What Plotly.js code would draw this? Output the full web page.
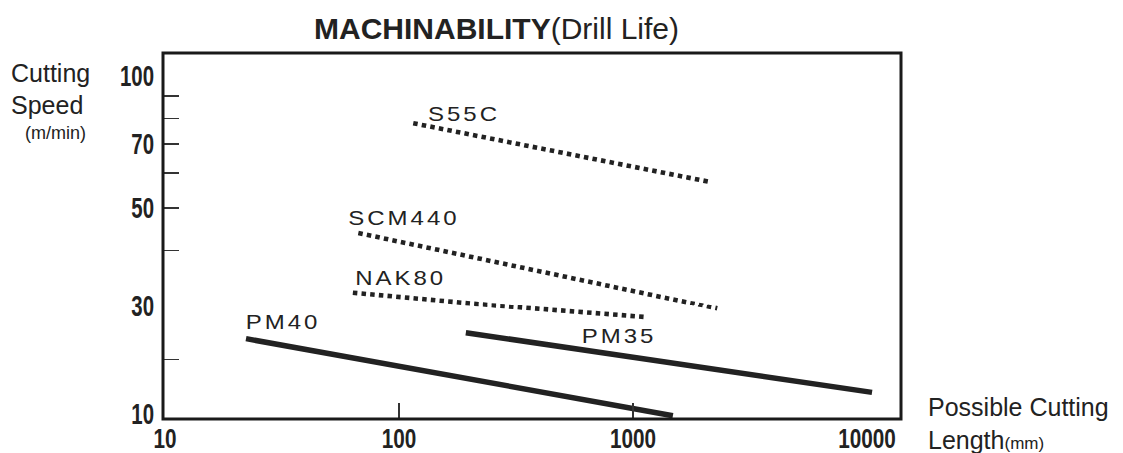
<!DOCTYPE html>
<html>
<head>
<meta charset="utf-8">
<script src="https://cdn.plot.ly/plotly-3.0.1.min.js"></script>
<style>
html,body{margin:0;padding:0;background:#fff;}
#chart{width:1123px;height:453px;}
.annotation[data-index="0"] text,
.annotation[data-index="1"] text,
.annotation[data-index="2"] text,
.annotation[data-index="3"] text,
.annotation[data-index="4"] text { letter-spacing: 2.5px; }
</style>
</head>
<body>
<div id="chart"></div>
<script>
// ---- data ----
const seriesNames = ['S55C', 'SCM440', 'NAK80', 'PM40', 'PM35'];
const s55cLength   = [115, 2130];
const s55cSpeed    = [78, 57.3];
const scm440Length = [67, 2290];
const scm440Speed  = [43.8, 29.4];
const nak80Length  = [63.5, 1120];
const nak80Speed   = [32, 27.8];
const pm40Length   = [22.2, 1480];
const pm40Speed    = [23.8, 9.6];
const pm35Length   = [193, 10500];
const pm35Speed    = [24.9, 13.9];
const dottedSeries = [true, true, true, false, false];

const xTickLabelVals = [10, 100, 1000, 10000];
const xTickLabelText = ['10', '100', '1000', '10000'];
const xTickMarkVals  = [100, 1000];
const yUpperLabelVals = [30, 50, 70, 100];
const yUpperLabelText = ['30', '50', '70', '100'];
const yUpperMarkVals  = [30, 40, 50, 60, 70, 80, 90];
const yLowerLabelVals = [10];
const yLowerLabelText = ['10'];
const yLowerMarkVals  = [20];

// ---- layout geometry ----
const W = 1123, H = 453;
const L = 163, R = 901, T = 53, B = 419;
const splitPx = 305;                       // where the upper (log) part meets the lower part
const split = (B - splitPx) / (B - T);
const upperRange = [Math.log10(30), Math.log10(30) + (splitPx - T) / 438];
const lowerRange = [9, 30];
const xRange = [0.9915, 4.145];
const px = v => (v - L) / (R - L);
const py = v => (B - v) / (B - T);

const ink = '#222222';
const numFamily = "'Liberation Sans', Arial, Helvetica, sans-serif";
const xTickFont = {family: numFamily, size: 28, color: ink, weight: 'bold'};
const yTickFont = {family: numFamily, size: 30, color: ink, weight: 'bold'};
const textFamily = "'Liberation Sans', Arial, Helvetica, sans-serif";

const xs = [s55cLength, scm440Length, nak80Length, pm40Length, pm35Length];
const ys = [s55cSpeed, scm440Speed, nak80Speed, pm40Speed, pm35Speed];

const traces = [];
seriesNames.forEach((name, i) => {
  ['y', 'y2'].forEach(ax => {
    traces.push({
      type: 'scatter', mode: 'lines', name: name,
      x: xs[i], y: ys[i], xaxis: 'x', yaxis: ax,
      line: dottedSeries[i]
        ? {color: ink, width: 4.6, dash: '4.5px,4.2px'}
        : {color: ink, width: 5.5, dash: 'solid'},
      hoverinfo: 'skip', showlegend: false
    });
  });
});
// carriers for the overlay label axes
traces.push({type: 'scatter', mode: 'lines', x: [], y: [], xaxis: 'x', yaxis: 'y3', showlegend: false, hoverinfo: 'skip'});
traces.push({type: 'scatter', mode: 'lines', x: [], y: [], xaxis: 'x2', yaxis: 'y4', showlegend: false, hoverinfo: 'skip'});

const markAxis = {
  ticks: 'inside', ticklen: 16, tickwidth: 1.4, tickcolor: '#333',
  showticklabels: false, showgrid: false, zeroline: false, showline: false,
  tickmode: 'array', fixedrange: true
};
const labelAxis = {
  ticks: '', showgrid: false, zeroline: false, showline: false,
  tickmode: 'array', fixedrange: true
};

const labelPos = [[464, 113.5], [404, 218], [400, 277.5], [283, 322], [618.5, 335.5]];
const annotations = seriesNames.map((n, i) => ({
  text: n, xref: 'paper', yref: 'paper', x: px(labelPos[i][0]), y: py(labelPos[i][1]),
  xanchor: 'center', yanchor: 'middle', showarrow: false,
  font: {family: textFamily, size: 20, color: ink}
}));
annotations.push(
  {text: 'Cutting', xref: 'paper', yref: 'paper', x: px(9), y: py(73), xanchor: 'left', yanchor: 'middle', showarrow: false, font: {family: textFamily, size: 25, color: ink}},
  {text: 'Speed', xref: 'paper', yref: 'paper', x: px(9), y: py(105), xanchor: 'left', yanchor: 'middle', showarrow: false, font: {family: textFamily, size: 25, color: ink}},
  {text: '(m/min)', xref: 'paper', yref: 'paper', x: px(23), y: py(133), xanchor: 'left', yanchor: 'middle', showarrow: false, font: {family: textFamily, size: 18, color: ink}},
  {text: 'Possible Cutting', xref: 'paper', yref: 'paper', x: px(926), y: py(407), xanchor: 'left', yanchor: 'middle', showarrow: false, font: {family: textFamily, size: 25, color: ink}},
  {text: "Length<span style='font-size:17px'>(mm)</span>", xref: 'paper', yref: 'paper', x: px(926), y: py(440), xanchor: 'left', yanchor: 'middle', showarrow: false, font: {family: textFamily, size: 25, color: ink}}
);

const layout = {
  width: W, height: H,
  margin: {l: L, r: W - R, t: T, b: H - B, pad: 0},
  paper_bgcolor: '#ffffff', plot_bgcolor: '#ffffff',
  showlegend: false,
  title: {
    text: '<b>MACHINABILITY</b>(Drill Life)',
    font: {family: textFamily, size: 30, color: ink},
    xref: 'container', yref: 'container',
    x: 496.5 / W, xanchor: 'center', y: 1 - 28 / H, yanchor: 'middle'
  },
  xaxis: Object.assign({}, markAxis, {type: 'log', range: xRange, anchor: 'y2', tickvals: xTickMarkVals}),
  xaxis2: Object.assign({}, labelAxis, {type: 'log', range: xRange, overlaying: 'x', anchor: 'y2', side: 'bottom',
    tickvals: xTickLabelVals, ticktext: xTickLabelText, tickfont: xTickFont, ticklabelstandoff: 0}),
  yaxis: Object.assign({}, markAxis, {type: 'log', range: upperRange, domain: [split, 1], anchor: 'x', tickvals: yUpperMarkVals}),
  yaxis2: Object.assign({}, markAxis, {type: 'linear', range: lowerRange, domain: [0, split], anchor: 'x', tickvals: yLowerMarkVals}),
  yaxis3: Object.assign({}, labelAxis, {type: 'log', range: upperRange, overlaying: 'y', anchor: 'x', side: 'left',
    tickvals: yUpperLabelVals, ticktext: yUpperLabelText, tickfont: yTickFont, ticklabelstandoff: 8}),
  yaxis4: Object.assign({}, labelAxis, {type: 'linear', range: lowerRange, overlaying: 'y2', anchor: 'x', side: 'left',
    tickvals: yLowerLabelVals, ticktext: yLowerLabelText, tickfont: yTickFont, ticklabelstandoff: 8}),
  shapes: [{
    type: 'rect', xref: 'paper', yref: 'paper', x0: 0, x1: 1, y0: 0, y1: 1,
    line: {color: '#1a1a1a', width: 3}, fillcolor: 'rgba(0,0,0,0)', layer: 'above'
  }],
  annotations: annotations
};

// horizontal squeeze/stretch of text around its anchor (styling only)
function scaleTextX(root, selector, s) {
  root.querySelectorAll(selector).forEach(t => {
    const bb = t.getBBox();
    const anchor = t.getAttribute('text-anchor');
    const cx = anchor === 'end' ? bb.x + bb.width : anchor === 'start' ? bb.x : bb.x + bb.width / 2;
    const tr = t.getAttribute('transform') || '';
    t.setAttribute('transform', tr + ' translate(' + cx + ',0) scale(' + s + ',1) translate(' + (-cx) + ',0)');
  });
}

Plotly.newPlot('chart', traces, layout, {staticPlot: true, displayModeBar: false}).then(gd => {
  scaleTextX(gd, '.x2tick text', 0.74);
  scaleTextX(gd, '.y3tick text, .y4tick text', 0.68);
  scaleTextX(gd, '.annotation[data-index="0"] text, .annotation[data-index="1"] text, .annotation[data-index="2"] text, .annotation[data-index="3"] text, .annotation[data-index="4"] text', 1.2);
});
</script>
</body>
</html>
